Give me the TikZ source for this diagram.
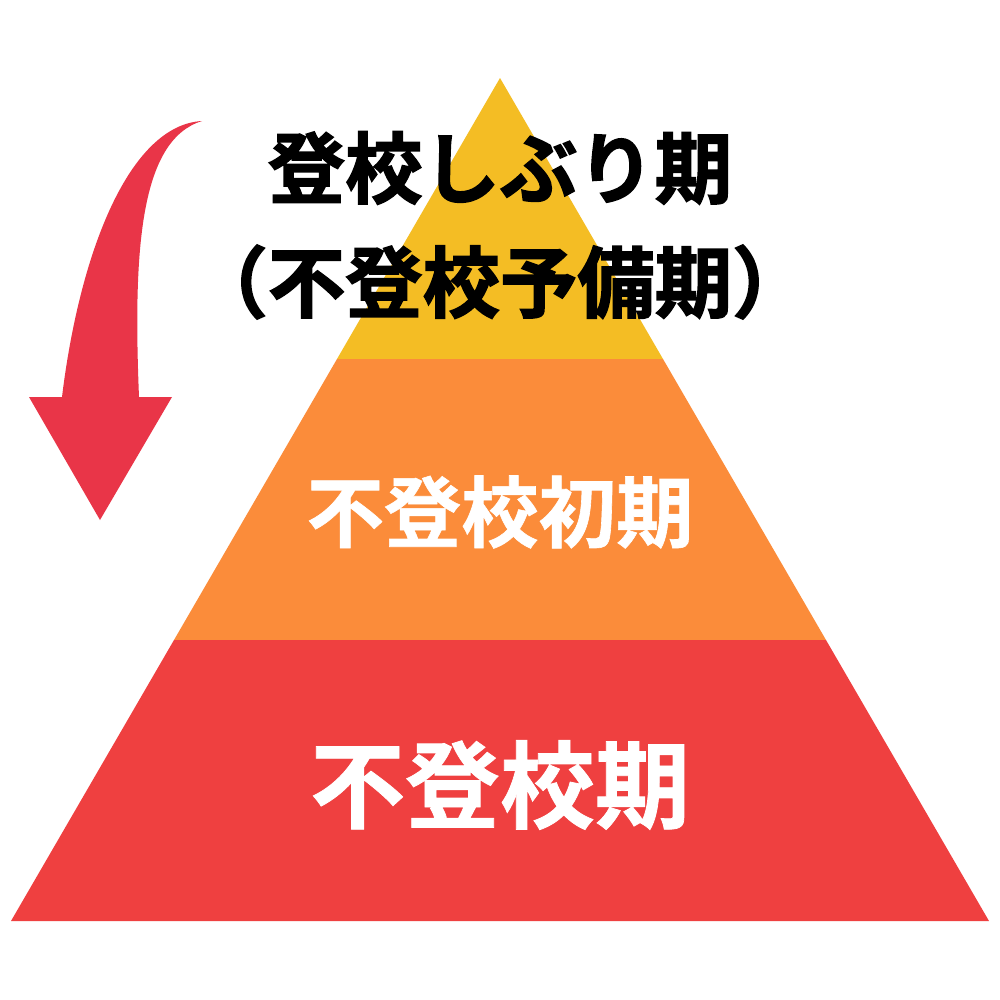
\documentclass[tikz,border=0pt]{standalone}
\usepackage{fontspec}
\newfontfamily\jpfont{Noto Sans CJK JP}[BoldFont={Noto Sans CJK JP Bold}, BoldFeatures={FakeBold=0.8}]
\newfontfamily\jpheavy{Noto Sans CJK JP Bold}[FakeBold=2]
\usepackage{tikz}
\usetikzlibrary{positioning}

\definecolor{topyellow}{RGB}{244,189,36}
\definecolor{midorange}{RGB}{251,140,58}
\definecolor{lowred}{RGB}{239,64,64}
\definecolor{arrowred}{RGB}{233,53,72}

\begin{document}
\begin{tikzpicture}[
  x=0.01cm, y=-0.01cm,
  layer/.style={draw=none},
  lbl/.style={font=\jpheavy\fontsize{22}{26}\selectfont, inner sep=0pt, align=center},
  midlbl/.style={font=\jpfont\bfseries\fontsize{22}{26}\selectfont, inner sep=0pt},
  biglbl/.style={font=\jpfont\bfseries\fontsize{27}{32}\selectfont, inner sep=0pt}
]
\useasboundingbox[fill=white] (0,0) rectangle (1000,1000);

% pyramid layers
\fill[layer, topyellow] (500,78) -- (663,359) -- (337,359) -- cycle;
\fill[layer, midorange] (337,359) -- (663,359) -- (826,640) -- (174,640) -- cycle;
\fill[layer, lowred] (174,640) -- (826,640) -- (989,921) -- (11,921) -- cycle;

% curved arrow
\fill[arrowred] (100,520) -- (172,397) -- (139,397)
  .. controls (133,250) and (140,140) .. (202,121)
  .. controls (130,125) and (80,250) .. (62,397)
  -- (29,397) -- cycle;

% labels
\node[lbl] (shiburi) at (500,168) {登校しぶり期};
\node[lbl] (yobi) at (500,282) {（不登校予備期）};
\node[midlbl, text=white] (shoki) at (500,512) {不登校初期};
\node[biglbl, text=white] (futoko) at (500,785) {不登校期};

\end{tikzpicture}
\end{document}
